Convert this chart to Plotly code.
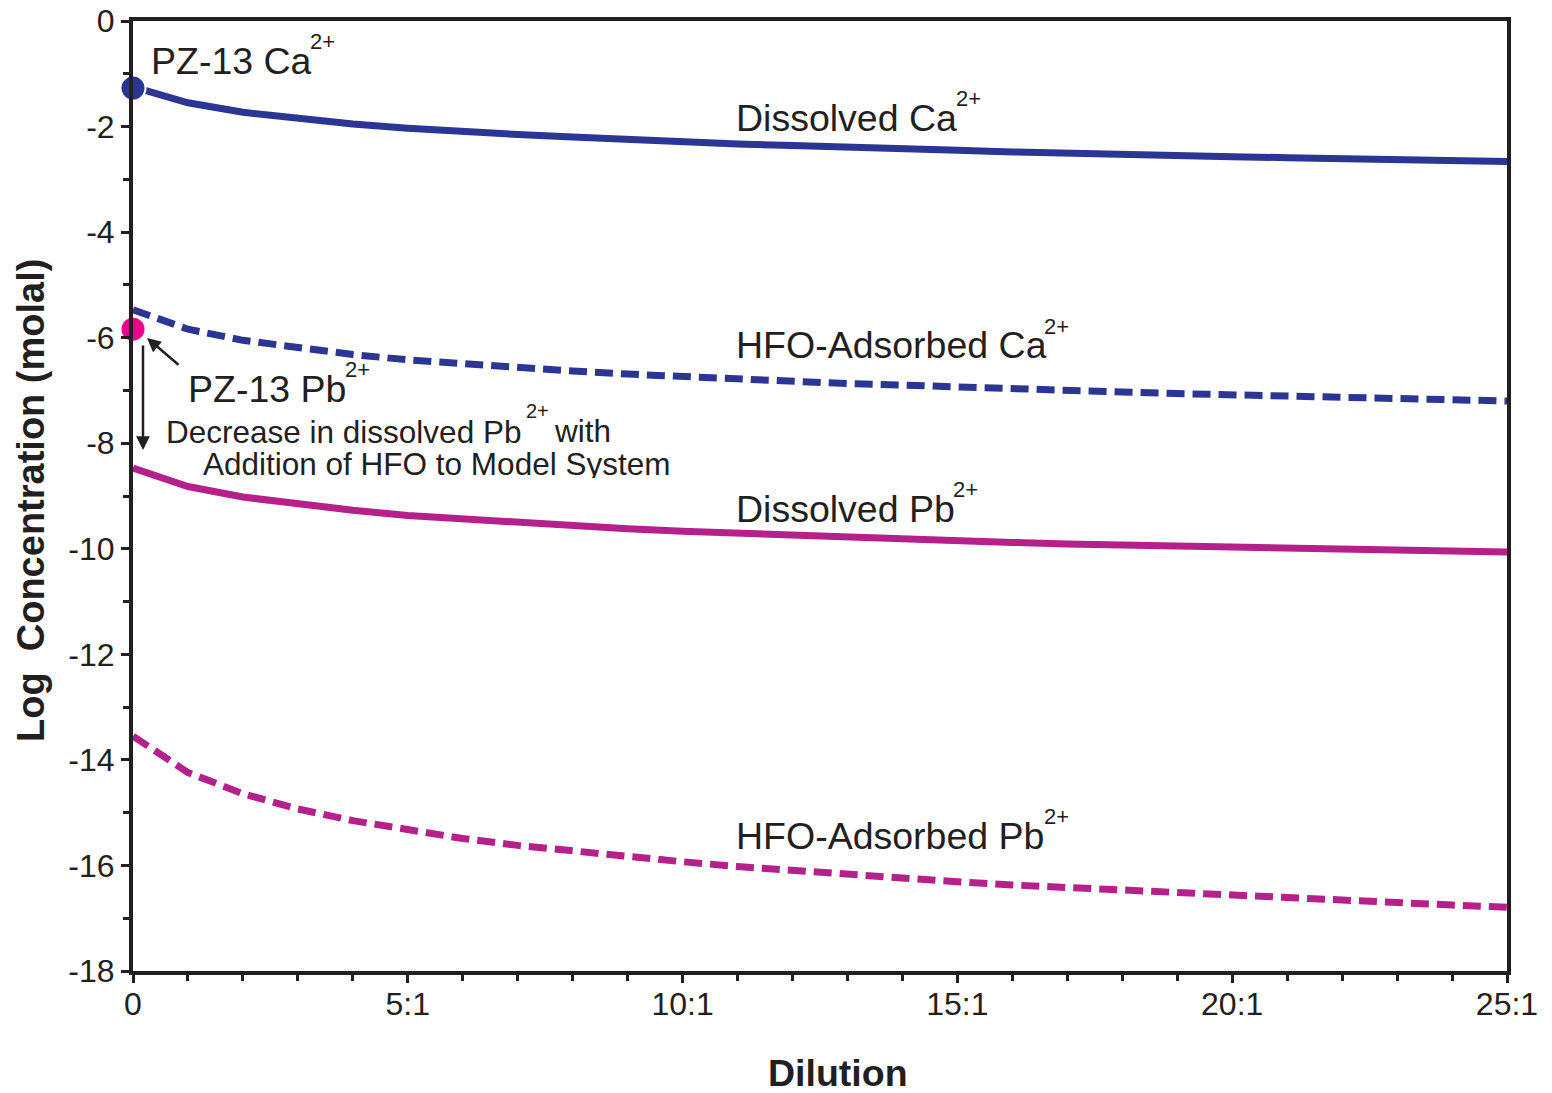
import plotly.graph_objects as go

# ---- data ----
dilution = list(range(0, 26))
dissolved_ca = [-1.25, -1.55, -1.73, -1.85, -1.95, -2.03, -2.10, -2.15, -2.20, -2.25,
                -2.29, -2.33, -2.36, -2.40, -2.43, -2.45, -2.48, -2.51, -2.53, -2.55,
                -2.57, -2.59, -2.61, -2.63, -2.65, -2.66]
hfo_ca = [-5.47, -5.84, -6.05, -6.20, -6.32, -6.42, -6.50, -6.57, -6.63, -6.69,
          -6.74, -6.79, -6.83, -6.87, -6.90, -6.94, -6.97, -7.00, -7.03, -7.06,
          -7.08, -7.11, -7.13, -7.15, -7.18, -7.20]
dissolved_pb = [-8.47, -8.82, -9.02, -9.16, -9.27, -9.37, -9.44, -9.51, -9.57, -9.62,
                -9.67, -9.71, -9.75, -9.79, -9.82, -9.85, -9.88, -9.91, -9.93, -9.96,
                -9.98, -10.00, -10.02, -10.04, -10.05, -10.06]
hfo_pb = [-13.55, -14.24, -14.64, -14.93, -15.15, -15.33, -15.49, -15.62, -15.73, -15.84,
          -15.93, -16.02, -16.10, -16.17, -16.24, -16.31, -16.37, -16.42, -16.48, -16.53,
          -16.58, -16.62, -16.67, -16.71, -16.75, -16.79]
pz13_ca = -1.27
pz13_pb = -5.84

x_tickvals = [0, 5, 10, 15, 20, 25]
x_ticktext = ["0", "5:1", "10:1", "15:1", "20:1", "25:1"]
y_tickvals = [0, -2, -4, -6, -8, -10, -12, -14, -16, -18]
y_ticktext = ["0", "-2", "-4", "-6", "-8", "-10", "-12", "-14", "-16", "-18"]

CA = "#2B3594"
PB = "#B5208B"
PB_DOT = "#EC008C"
INK = "#231F20"
FONT = "Liberation Sans, Arial, sans-serif"

# body margin is removed in the page, so the figure fills the window
W, H = 1552, 1093
PX0, PX1, PY0, PY1 = 133, 1507, 21, 971      # plot area in window pixels
L, T = PX0, PY0
R = W - PX1
B = H - PY1
X0, X1 = 0, 25
Y0, Y1 = -18, 0


def dx(px):
    return X0 + (px - PX0) / (PX1 - PX0) * (X1 - X0)


def dy(py):
    return Y1 - (py - PY0) / (PY1 - PY0) * (Y1 - Y0)


def paper_x(px):
    return (px - PX0) / (PX1 - PX0)


def paper_y(py):
    return (PY1 - py) / (PY1 - PY0)


fig = go.Figure()
fig.add_trace(go.Scatter(x=dilution, y=dissolved_ca, mode="lines",
                         line=dict(color=CA, width=7)))
fig.add_trace(go.Scatter(x=dilution, y=hfo_ca, mode="lines",
                         line=dict(color=CA, width=7, dash="18px,8px")))
fig.add_trace(go.Scatter(x=dilution, y=dissolved_pb, mode="lines",
                         line=dict(color=PB, width=7)))
fig.add_trace(go.Scatter(x=dilution, y=hfo_pb, mode="lines",
                         line=dict(color=PB, width=7, dash="18px,8px")))
fig.add_trace(go.Scatter(x=[0], y=[pz13_ca], mode="markers", cliponaxis=False,
                         marker=dict(color=CA, size=25, line=dict(color="white", width=2))))
fig.add_trace(go.Scatter(x=[0], y=[pz13_pb], mode="markers", cliponaxis=False,
                         marker=dict(color=PB_DOT, size=25, line=dict(color="white", width=2))))


def text_at(txt, px, py, fs, height=None):
    fig.add_annotation(x=paper_x(px), y=paper_y(py), xref="paper", yref="paper",
                       text=txt, showarrow=False, xanchor="left", yanchor="middle",
                       height=height, valign="middle", borderpad=0,
                       font=dict(family=FONT, size=fs, color=INK))


# (main text, x-left, cap-middle y, superscript x-left, superscript middle y)
labels = [
    ("PZ-13 Ca", 150, 61, 309, 41),
    ("Dissolved Ca", 735, 118, 955, 98),
    ("HFO-Adsorbed Ca", 735, 345, 1043, 326),
    ("PZ-13 Pb", 187, 389, 344, 369),
    ("Dissolved Pb", 735, 509, 952, 489),
    ("HFO-Adsorbed Pb", 735, 836, 1043, 816),
]
for txt, px, py, sx, sy in labels:
    text_at(txt, px, py, 37.5, height=34)
    text_at("2+", sx, sy, 22, height=18)

text_at("Decrease in dissolved Pb", 165, 432, 31.5, height=28)
text_at("2+", 525, 411, 20, height=16)
text_at("with", 553, 431, 31.5, height=28)
text_at("Addition of HFO to Model System", 202, 464, 31.5, height=28)

# axis titles
fig.add_annotation(x=paper_x(838), y=paper_y(1073), xref="paper", yref="paper",
                   text="<b>Dilution</b>", showarrow=False, height=34, borderpad=0,
                   xanchor="center", yanchor="middle",
                   font=dict(family=FONT, size=37.5, color=INK))
fig.add_annotation(x=paper_x(31), y=paper_y(501), xref="paper", yref="paper",
                   text="<b>Log  Concentration (molal)</b>",
                   showarrow=False, textangle=-90, xanchor="center", yanchor="middle",
                   font=dict(family=FONT, size=38, color=INK))

# arrows
fig.add_annotation(x=dx(147), y=dy(338), ax=dx(180), ay=dy(366), xref="x", yref="y",
                   axref="x", ayref="y", text="", showarrow=True, arrowhead=2,
                   arrowsize=1.1, arrowwidth=2.5, arrowcolor=INK)
fig.add_annotation(x=dx(143), y=dy(450), ax=dx(143), ay=dy(344), xref="x", yref="y",
                   axref="x", ayref="y", text="", showarrow=True, arrowhead=2,
                   arrowsize=1.1, arrowwidth=2.5, arrowcolor=INK)

fig.update_layout(
    width=W, height=H,
    margin=dict(l=L, r=R, t=T, b=B, autoexpand=False),
    paper_bgcolor="white", plot_bgcolor="white",
    showlegend=False,
    font=dict(family=FONT, color=INK),
)
fig.update_xaxes(
    range=[X0, X1], showgrid=False, zeroline=False, automargin=False,
    showline=True, linecolor=INK, linewidth=4, mirror=True,
    ticks="outside", ticklen=8, tickwidth=3, tickcolor=INK,
    tickvals=x_tickvals, ticktext=x_ticktext, ticklabelstandoff=-6,
    ticklabeloverflow="allow",
    tickfont=dict(family=FONT, size=32, color=INK),
    minor=dict(dtick=1, tick0=0, ticks="outside", ticklen=6, tickwidth=3, tickcolor=INK),
)
fig.update_yaxes(
    range=[Y0, Y1], showgrid=False, zeroline=False, automargin=False,
    showline=True, linecolor=INK, linewidth=4, mirror=True,
    ticks="outside", ticklen=8, tickwidth=3, tickcolor=INK,
    tickvals=y_tickvals, ticktext=y_ticktext, ticklabeloverflow="allow",
    tickfont=dict(family=FONT, size=32, color=INK),
    minor=dict(dtick=1, tick0=0, ticks="outside", ticklen=6, tickwidth=3, tickcolor=INK),
)

fig.write_html(
    "out.html",
    config={"displayModeBar": False},
    post_script="document.body.style.margin='0';document.body.style.overflow='hidden';",
)
